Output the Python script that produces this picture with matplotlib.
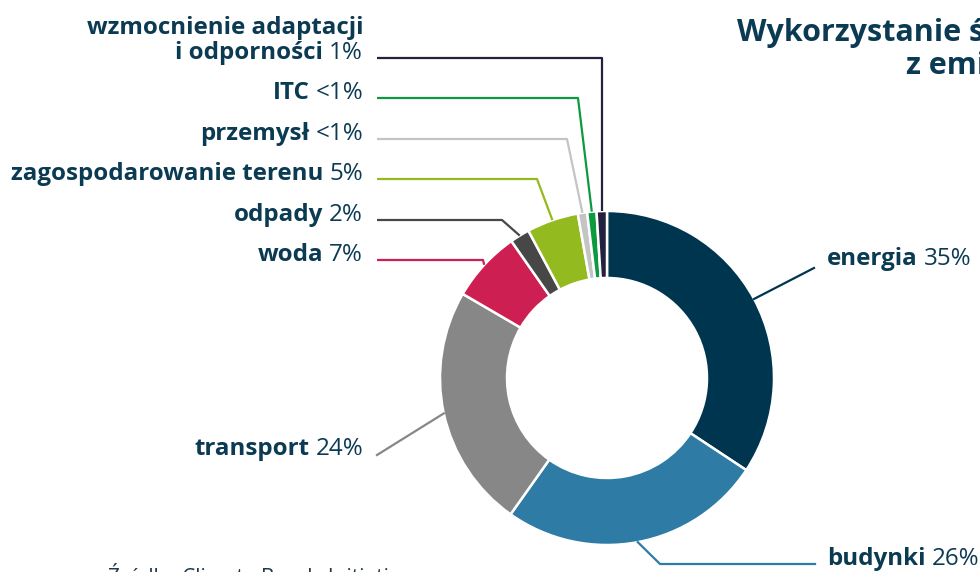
import numpy as np
import matplotlib
matplotlib.use("Agg")
import matplotlib.pyplot as plt

plt.rcParams['font.family'] = ['Open Sans', 'DejaVu Sans']

# data (clockwise from 12 o'clock)
categories = ['energia', 'budynki', 'transport', 'woda', 'odpady',
              'zagospodarowanie terenu', 'przemysł', 'ITC',
              'wzmocnienie adaptacji\ni odporności']
shares = [34.3, 25.5, 23.6, 6.9, 1.9, 5.0, 0.9, 0.9, 1.0]
pct_labels = ['35%', '26%', '24%', '7%', '2%', '5%', '<1%', '<1%', '1%']
colors = ['#00354F', '#2E7BA5', '#878787', '#CE1F52', '#474747',
          '#93BA1F', '#C4C4C4', '#0C9A3F', '#24203F']

TXT = '#0B3A53'
FS = 17.4
W, H = 980, 572
cx, cy, R, width = 607, 378, 167, 67


def py(y):
    return H - y


fig = plt.figure(figsize=(9.8, 5.72), dpi=100)
ax = fig.add_axes([0, 0, 1, 1])
wedges, _ = ax.pie(shares, colors=colors, startangle=90, counterclock=False,
                   center=(cx, py(cy)), radius=R,
                   wedgeprops=dict(width=width, edgecolor='white', linewidth=1.8))
ax.set_xlim(0, W)
ax.set_ylim(0, H)
ax.set_aspect('equal')
ax.axis('off')

renderer = fig.canvas.get_renderer()


def anchor(i):
    w = wedges[i]
    a = np.deg2rad((w.theta1 + w.theta2) / 2)
    return cx + R * np.cos(a), py(cy) + R * np.sin(a)


def label(x, y, name, pct, side):
    if side == 'left':
        t = ax.text(x, py(y), pct, fontsize=FS, color=TXT, ha='right', va='baseline')
        wpx = t.get_window_extent(renderer).width
        ax.text(x - wpx - 6, py(y), name, fontsize=FS, color=TXT, fontweight='bold',
                ha='right', va='baseline')
    else:
        t = ax.text(x, py(y), name, fontsize=FS, color=TXT, fontweight='bold',
                    ha='left', va='baseline')
        wpx = t.get_window_extent(renderer).width
        ax.text(x + wpx + 6, py(y), pct, fontsize=FS, color=TXT,
                ha='left', va='baseline')


# left side labels with elbow leader lines: (index, baseline y, elbow x)
left = [(8, 59, None), (7, 99, 578), (6, 140, 567), (5, 180, 537),
        (4, 221, 502), (3, 261, 483)]
for i, yb, ex in left:
    name = categories[i]
    if '\n' in name:
        l1, l2 = name.split('\n')
        ax.text(363, py(yb - 25), l1, fontsize=FS, color=TXT, fontweight='bold',
                ha='right', va='baseline')
        name = l2
    label(363, yb, name, pct_labels[i], 'left')
    axx, ayy = anchor(i)
    if ex is None:
        ex = axx
    ax.plot([377, ex, axx], [py(yb - 1), py(yb - 1), ayy], color=colors[i], lw=1.6,
            solid_capstyle='butt')

# transport
label(363, 455, categories[2], pct_labels[2], 'left')
axx, ayy = anchor(2)
ax.plot([377, axx], [py(455), ayy], color=colors[2], lw=1.6)

# energia
label(827, 265, categories[0], pct_labels[0], 'right')
axx, ayy = anchor(0)
ax.plot([axx, 814], [ayy, py(268)], color=colors[0], lw=1.6)

# budynki
label(827, 565, categories[1], pct_labels[1], 'right')
axx, ayy = anchor(1)
ax.plot([axx, 660, 815], [ayy, py(564), py(564)], color=colors[1], lw=1.6)

# title (cut off at the right edge)
ax.text(737, py(41), 'Wykorzystanie środków pozyskanych', fontsize=22,
        color=TXT, fontweight='bold', ha='left', va='baseline')
ax.text(906, py(74), 'z emisji zielonych obligacji', fontsize=22,
        color=TXT, fontweight='bold', ha='left', va='baseline')

# source (cut off at the bottom)
ax.text(108, py(584), 'Źródło: Climate Bonds Initiative', fontsize=15,
        color='#1E3A4A', ha='left', va='baseline')

fig.savefig('out.png', dpi=100)
